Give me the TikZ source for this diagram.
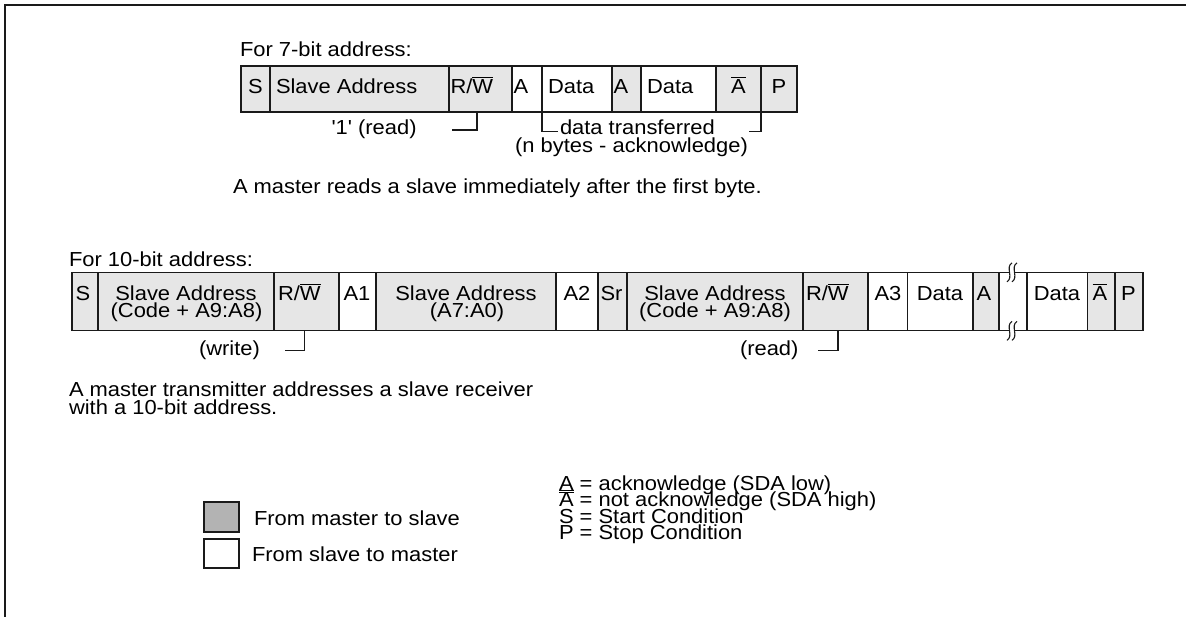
\documentclass[tikz,border=0pt]{standalone}
\usepackage{fontspec}
\setmainfont[FakeStretch=1.08,Ligatures=TeXOff]{Liberation Sans}
\definecolor{linec}{HTML}{1A1A1A}
\definecolor{cellg}{HTML}{E6E6E6}
\definecolor{legg}{HTML}{B3B3B3}
\newcommand\fsz{\fontsize{20.3}{17}\selectfont}
\newcommand\ovl[1]{\leavevmode\vbox{\hrule height 1pt\kern 1.4pt\hbox{#1}}}
\newcommand\unl[1]{\leavevmode\vtop{\hbox{#1}\kern 1.6pt\hrule height 1pt}}
\newcommand\cellnode[6]{\node[cell,#6,minimum width={(#3-#2)*1pt},minimum height=#5pt] (#1) at (#2,#4) {};}
\tikzset{
  cell/.style={draw=linec, line width=1.3pt, inner sep=0pt, outer sep=0pt, anchor=north west},
  gcell/.style={fill=cellg},
  wcell/.style={fill=white},
  txt/.style={inner sep=0pt, outer sep=0pt, anchor=base west, font=\fsz, text=black},
  txtc/.style={inner sep=0pt, outer sep=0pt, anchor=base, font=\fsz, text=black},
  conn/.style={draw=linec, line width=1.3pt},
  brk/.style={draw=linec, line width=1.1pt},
}
\begin{document}
\begin{tikzpicture}[x=1pt,y=-1pt]
\useasboundingbox (0,0) rectangle (1186,617);
% outer frame
\draw[line width=2.2pt, linec] (1186,5.3) -- (5.3,5.3) -- (5.3,617);

% ---------- 7-bit ----------
\node[txt] (t7) at (240,57) {For 7-bit address:};
\cellnode{s7}{241}{270}{66}{46}{gcell}
\cellnode{sa7}{270}{449}{66}{46}{gcell}
\cellnode{rw7}{449}{512}{66}{46}{gcell}
\cellnode{a7a}{512}{542}{66}{46}{wcell}
\cellnode{d7a}{542}{612}{66}{46}{wcell}
\cellnode{a7b}{612}{641}{66}{46}{gcell}
\cellnode{d7b}{641}{716}{66}{46}{wcell}
\cellnode{na7}{716}{761}{66}{46}{gcell}
\cellnode{p7}{761}{797}{66}{46}{gcell}
\node[txtc] (s7t) at (255.5,93.5) {S};
\node[txt] (sa7t) at (276,93.5) {Slave Address};
\node[txt] (rw7t) at (450.5,93.5) {R/\ovl{W}};
\node[txt] (a7at) at (513.5,93.5) {A};
\node[txt] (d7at) at (548,93.5) {Data};
\node[txt] (a7bt) at (613.5,93.5) {A};
\node[txt] (d7bt) at (647,93.5) {Data};
\node[txtc] (na7t) at (738.5,93.5) {\ovl{A}};
\node[txtc] (p7t) at (779,93.5) {P};

\node[txt] (read7) at (331.5,134.5) {'1' (read)};
\coordinate (rd7a) at (452,130);
\coordinate (rd7b) at (477,112);
\draw[conn] (rd7a) -| (rd7b);
\node[txt] (dt7) at (560,135) {data transferred};
\node[txtc] (nb7) at (631.5,153) {(n bytes - acknowledge)};
\coordinate (dl7a) at (542,112);
\coordinate (dl7b) at (558,131.5);
\draw[conn] (dl7a) |- (dl7b);
\coordinate (dr7a) at (749,131.5);
\coordinate (dr7b) at (761,112);
\draw[conn] (dr7a) -| (dr7b);
\node[txt] (m7) at (233,193.5) {A master reads a slave immediately after the first byte.};

% ---------- 10-bit ----------
\node[txt] (t10) at (69,266.7) {For 10-bit address:};
\cellnode{s10}{72}{98}{272.3}{58.5}{gcell}
\cellnode{sa10a}{98}{274}{272.3}{58.5}{gcell}
\cellnode{rw10a}{274}{339}{272.3}{58.5}{gcell}
\cellnode{a1}{339}{376}{272.3}{58.5}{wcell}
\cellnode{sa10b}{376}{556}{272.3}{58.5}{gcell}
\cellnode{a2}{556}{598}{272.3}{58.5}{wcell}
\cellnode{sr}{598}{627}{272.3}{58.5}{gcell}
\cellnode{sa10c}{627}{803}{272.3}{58.5}{gcell}
\cellnode{rw10b}{803}{868}{272.3}{58.5}{gcell}
\cellnode{a3}{868}{907.5}{272.3}{58.5}{wcell}
\cellnode{d10a}{907.5}{973}{272.3}{58.5}{wcell}
\cellnode{a10}{973}{999}{272.3}{58.5}{gcell}
\cellnode{gap}{999}{1027}{272.3}{58.5}{wcell}
\cellnode{d10b}{1027}{1087.5}{272.3}{58.5}{wcell}
\cellnode{na10}{1087.5}{1115}{272.3}{58.5}{gcell}
\cellnode{p10}{1115}{1143}{272.3}{58.5}{gcell}

\node[txtc] (s10t) at (83,300.7) {S};
\node[txtc] (sa10at) at (186,300.7) {Slave Address};
\node[txtc] (sa10at2) at (186.5,317.7) {(Code + A9:A8)};
\node[txt] (rw10at) at (278,300.7) {R/\ovl{W}};
\node[txtc] (a1t) at (357,300.7) {A1};
\node[txtc] (sa10bt) at (466,300.7) {Slave Address};
\node[txtc] (sa10bt2) at (467,317.7) {(A7:A0)};
\node[txtc] (a2t) at (577,300.7) {A2};
\node[txt] (srt) at (600.5,300.7) {Sr};
\node[txtc] (sa10ct) at (715,300.7) {Slave Address};
\node[txtc] (sa10ct2) at (715,317.7) {(Code + A9:A8)};
\node[txt] (rw10bt) at (806,300.7) {R/\ovl{W}};
\node[txtc] (a3t) at (888,300.7) {A3};
\node[txtc] (d10at) at (940,300.7) {Data};
\node[txt] (a10t) at (976.5,300.7) {A};
\node[txtc] (d10bt) at (1057,300.7) {Data};
\node[txtc] (na10t) at (1100,300.7) {\ovl{A}};
\node[txt] (p10t) at (1121,300.7) {P};

% break marks
\foreach \yy in {272.3,330.8}{
  \fill[white] (1012,\yy-9.5) .. controls (1005,\yy-5) and (1014,\yy+5) .. (1007,\yy+9.5)
     -- (1012,\yy+9.5) .. controls (1019,\yy+5) and (1010,\yy-5) .. (1017,\yy-9.5) -- cycle;
  \draw[brk] (1012,\yy-9.5) .. controls (1005,\yy-5) and (1014,\yy+5) .. (1007,\yy+9.5);
  \draw[brk] (1017,\yy-9.5) .. controls (1010,\yy-5) and (1019,\yy+5) .. (1012,\yy+9.5);
}

\node[txt] (wr10) at (199,356) {(write)};
\coordinate (wr10a) at (285,350.5);
\coordinate (wr10b) at (304.3,330.8);
\draw[conn] (wr10a) -| (wr10b);
\node[txt] (rd10) at (740,356) {(read)};
\coordinate (rd10a) at (818,350.5);
\coordinate (rd10b) at (838,330.8);
\draw[conn] (rd10a) -| (rd10b);

\node[txt] (m10a) at (69,397) {A master transmitter addresses a slave receiver};
\node[txt] (m10b) at (69,414) {with a 10-bit address.};

% ---------- legend ----------
\node[cell, fill=legg, minimum width=35pt, minimum height=30pt] (lg1) at (204,502) {};
\node[cell, fill=white, minimum width=35pt, minimum height=29pt] (lg2) at (204,539) {};
\node[txt] (lg1t) at (254,525) {From master to slave};
\node[txt] (lg2t) at (252,561.5) {From slave to master};

\node[txt] (k1) at (559,490.5) {\unl{A} = acknowledge (SDA low)};
\node[txt] (k2) at (559,506.8) {\ovl{A} = not acknowledge (SDA high)};
\node[txt] (k3) at (559,523.1) {S = Start Condition};
\node[txt] (k4) at (559,539.4) {P = Stop Condition};
\end{tikzpicture}
\end{document}
